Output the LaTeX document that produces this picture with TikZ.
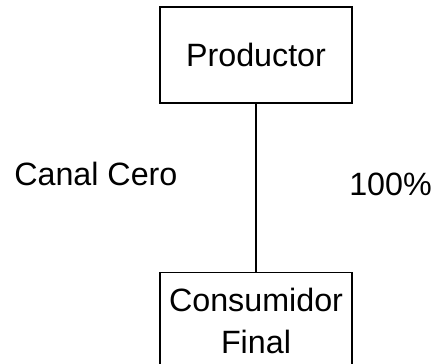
\documentclass[tikz,border=0pt]{standalone}
\usepackage{fontspec}
\setmainfont{Liberation Sans}
\usetikzlibrary{positioning}
\begin{document}
\begin{tikzpicture}[
  x=0.75pt,y=0.75pt,
  font=\fontsize{24.2}{31.5}\selectfont,
  box/.style={draw,line width=1.2pt,align=center,inner sep=0pt,minimum width=144pt,minimum height=72pt},
  lbl/.style={anchor=base west,inner sep=0pt},
]
\useasboundingbox (0,0) rectangle (432,364);
\node[box] (prod) at (256,309) {Productor};
\node[box,below=126pt of prod] (cons) {Consumidor\\Final};
\node[lbl] (canal) at (14,178) {Canal Cero};
\node[lbl] (pct) at (349,168) {100\%};
\draw[line width=1.2pt] (prod) -- (cons);
\end{tikzpicture}
\end{document}
